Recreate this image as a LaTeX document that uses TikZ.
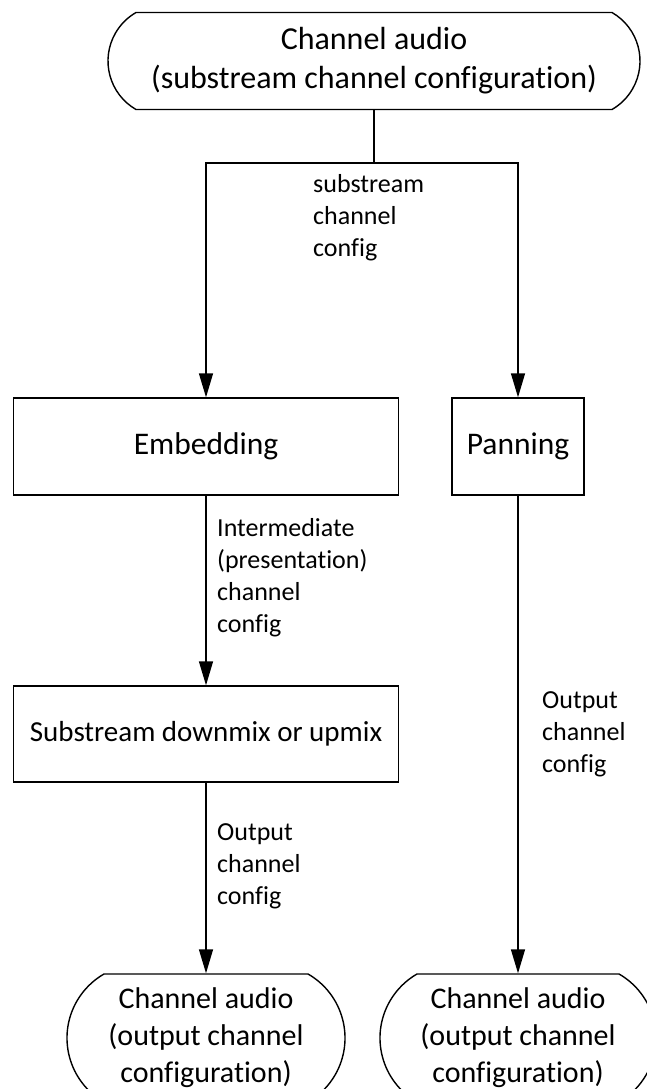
\documentclass[tikz,border=0pt]{standalone}
\usepackage{fontspec}
\setmainfont{Carlito}[Ligatures=NoCommon]
\usetikzlibrary{arrows.meta,shapes.misc}

\tikzset{
  flowline/.style={line width=1.4pt},
  flowarrow/.style={flowline,-{Triangle[length=24pt,width=14pt]}},
  termbox/.style={draw,line width=1.4pt,rounded rectangle,rounded rectangle arc length=120,
    align=center,inner sep=0pt},
  procbox/.style={draw,line width=1.4pt,rectangle,align=center,inner sep=0pt},
  cfglabel/.style={anchor=west,align=left,font=\fontsize{26}{32}\selectfont,inner sep=0pt}
}

\begin{document}
\begin{tikzpicture}[x=1pt,y=-1pt]
    \useasboundingbox (0,0) rectangle (647,1089);
    \clip (0,0) rectangle (647,1089);

    % Source
    \node[termbox,font=\fontsize{32}{39}\selectfont,minimum width=532,minimum height=97] (src) at (374,61)
        {Channel audio\\(substream channel configuration)};

    % Processing blocks
    \node[procbox,font=\fontsize{31.5}{38}\selectfont,minimum width=385,minimum height=97] (embed) at (206,446.5) {Embedding};
    \node[procbox,font=\fontsize{31.5}{38}\selectfont,minimum width=132,minimum height=97] (pan) at (518,446.5) {Panning};
    \node[procbox,font=\fontsize{29}{35}\selectfont,minimum width=385,minimum height=96] (mix) at (206,734) {Substream downmix or upmix};

    % Outputs
    \node[termbox,font=\fontsize{30}{37}\selectfont,minimum width=278,minimum height=128] (outl) at (206,1038)
        {Channel audio\\(output channel\\configuration)};
    \node[termbox,font=\fontsize{30}{37}\selectfont,minimum width=276,minimum height=128] (outr) at (518,1038)
        {Channel audio\\(output channel\\configuration)};

    % Connectors
    \coordinate (split) at (374,163);
    \draw[flowline] (src.south) -- (split);
    \draw[flowarrow] (split) -| (embed.north);
    \draw[flowarrow] (split) -| (pan.north);
    \draw[flowarrow] (embed.south) -- (mix.north);
    \draw[flowarrow] (mix.south) -- (outl.north);
    \draw[flowarrow] (pan.south) -- (outr.north);

    % Labels
    \node[cfglabel] (lblsub) at (313,218) {substream\\channel\\config};
    \node[cfglabel] (lblint) at (217,577.5) {Intermediate\\(presentation)\\channel\\config};
    \node[cfglabel] (lblmix) at (217,866.5) {Output\\channel\\config};
    \node[cfglabel] (lblpan) at (542,734.5) {Output\\channel\\config};
\end{tikzpicture}
\end{document}
